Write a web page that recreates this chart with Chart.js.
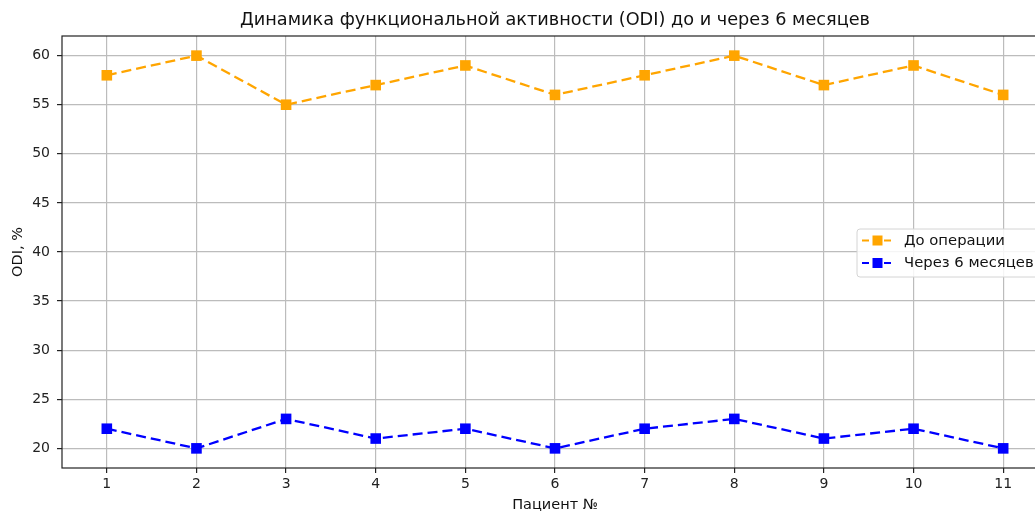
<!DOCTYPE html>
<html>
<head>
<meta charset="utf-8">
<script src="https://cdn.jsdelivr.net/npm/chart.js@4"></script>
<style>
  html, body { margin: 0; padding: 0; background: #fff; overflow: hidden; }
  #wrap { position: absolute; left: 0; top: 0; width: 1060px; height: 511px; }
</style>
</head>
<body>
<div id="wrap"><canvas id="odiChart" width="1060" height="511"></canvas></div>
<script>
// data
var patients = [1, 2, 3, 4, 5, 6, 7, 8, 9, 10, 11];
var beforeOp = [58, 60, 55, 57, 59, 56, 58, 60, 57, 59, 56];
var after6m = [22, 20, 23, 21, 22, 20, 22, 23, 21, 22, 20];
var yTicks = [20, 25, 30, 35, 40, 45, 50, 55, 60];
var seriesNames = ['До операции', 'Через 6 месяцев'];
var titleText = 'Динамика функциональной активности (ODI) до и через 6 месяцев';
var xTitle = 'Пациент №';
var yTitle = 'ODI, %';

var FONT = '"DejaVu Sans", sans-serif';

function toPoints(vals) {
    return patients.map(function (p, i) { return { x: p, y: vals[i] }; });
}

// frame, titles and legend drawn like matplotlib
var decorPlugin = {
    id: 'decor',
    afterDraw: function (chart) {
        var ctx = chart.ctx;
        var a = chart.chartArea;
        ctx.save();
        // axes frame
        ctx.strokeStyle = '#222';
        ctx.lineWidth = 1.2;
        ctx.strokeRect(a.left, a.top, a.right - a.left, a.bottom - a.top);

        // title
        ctx.fillStyle = '#111';
        ctx.textAlign = 'center';
        ctx.textBaseline = 'middle';
        ctx.font = '17.7px ' + FONT;
        ctx.fillText(titleText, (a.left + a.right) / 2, 20);

        // axis titles
        ctx.font = '14.5px ' + FONT;
        ctx.fillText(xTitle, (a.left + a.right) / 2, 505);
        ctx.save();
        ctx.translate(18, (a.top + a.bottom) / 2);
        ctx.rotate(-Math.PI / 2);
        ctx.fillText(yTitle, 0, 0);
        ctx.restore();

        // legend (center right)
        var bx = 857, by = 229, bw = 190, bh = 48;
        ctx.fillStyle = 'rgba(255,255,255,0.85)';
        ctx.strokeStyle = '#d4d4d4';
        ctx.lineWidth = 1;
        ctx.beginPath();
        ctx.roundRect(bx, by, bw, bh, 3);
        ctx.fill();
        ctx.stroke();

        var ds = chart.data.datasets;
        var rows = [240.5, 263];
        ds.forEach(function (d, i) {
            var y = rows[i];
            ctx.strokeStyle = d.borderColor;
            ctx.lineWidth = 2.2;
            ctx.setLineDash([7, 4]);
            ctx.beginPath();
            ctx.moveTo(862, y);
            ctx.lineTo(893, y);
            ctx.stroke();
            ctx.setLineDash([]);
            ctx.fillStyle = d.borderColor;
            ctx.fillRect(877.5 - 5, y - 5, 10, 10);
            ctx.fillStyle = '#111';
            ctx.textAlign = 'left';
            ctx.font = '14.8px ' + FONT;
            ctx.fillText(d.label, 904, y + 0.5);
        });
        ctx.restore();
    }
};

var canvas = document.getElementById('odiChart');
var chart = new Chart(canvas, {
    type: 'line',
    data: {
        datasets: [{
            label: seriesNames[0],
            data: toPoints(beforeOp),
            borderColor: 'orange',
            backgroundColor: 'orange',
            borderWidth: 2.3,
            borderDash: [10, 5],
            pointStyle: 'rect',
            pointRadius: 7.5,
            pointBorderWidth: 0,
            tension: 0
        }, {
            label: seriesNames[1],
            data: toPoints(after6m),
            borderColor: 'blue',
            backgroundColor: 'blue',
            borderWidth: 2.3,
            borderDash: [10, 5],
            pointStyle: 'rect',
            pointRadius: 7.5,
            pointBorderWidth: 0,
            tension: 0
        }]
    },
    options: {
        responsive: false,
        animation: false,
        layout: { padding: { top: 36, right: 12, left: 0, bottom: 0 } },
        plugins: {
            legend: { display: false },
            title: { display: false },
            tooltip: { enabled: false }
        },
        scales: {
            x: {
                type: 'linear',
                min: 0.5,
                max: 11.5,
                afterBuildTicks: function (scale) {
                    scale.ticks = patients.map(function (v) { return { value: v }; });
                },
                afterFit: function (scale) { scale.height = 43; },
                grid: { color: '#bcbcbc', lineWidth: 1.2, tickLength: 5, tickColor: '#222' },
                border: { display: false },
                ticks: {
                    autoSkip: false,
                    maxRotation: 0,
                    padding: 3,
                    color: '#222',
                    font: { family: FONT, size: 14 }
                }
            },
            y: {
                min: 18,
                max: 62,
                afterBuildTicks: function (scale) {
                    scale.ticks = yTicks.map(function (v) { return { value: v }; });
                },
                afterFit: function (scale) { scale.width = 62; },
                grid: { color: '#bcbcbc', lineWidth: 1.2, tickLength: 5, tickColor: '#222' },
                border: { display: false },
                ticks: {
                    padding: 7,
                    color: '#222',
                    font: { family: FONT, size: 14 }
                }
            }
        }
    },
    plugins: [decorPlugin]
});
</script>
</body>
</html>
